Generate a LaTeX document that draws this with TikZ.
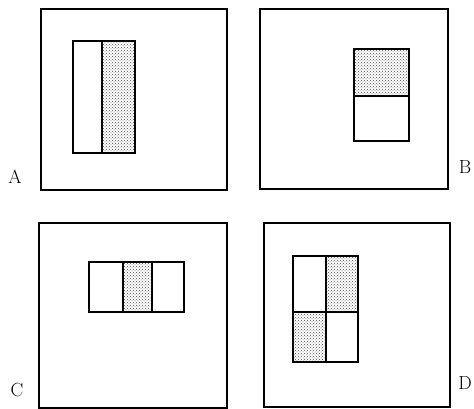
\documentclass[tikz,border=0pt]{standalone}
\usetikzlibrary{patterns}

\tikzset{
  frame/.style={line width=1.4pt},
  haar/.style={line width=1.5pt},
  dark/.style={pattern=crosshatch dots, pattern color=black!70},
  tag/.style={font=\fontsize{19}{21}\selectfont}
}

\begin{document}
\begin{tikzpicture}[x=1pt,y=-1pt]
  \useasboundingbox (0,0) rectangle (474,409);

  % outer windows
  \draw[frame] (41,9) rectangle (227,190);
  \draw[frame] (260,9) rectangle (448,189);
  \draw[frame] (39,223) rectangle (227,408);
  \draw[frame] (264,223) rectangle (450,407);

  % A: two columns, right one dark
  \fill[dark] (102,41) rectangle (135,153);
  \draw[haar] (73,41) rectangle (135,153);
  \draw[haar] (102,41) -- (102,153);

  % B: two rows, top one dark
  \fill[dark] (354,49) rectangle (409,96);
  \draw[haar] (354,49) rectangle (409,141);
  \draw[haar] (354,96) -- (409,96);

  % C: three columns, middle one dark
  \fill[dark] (123,262) rectangle (152,312);
  \draw[haar] (89,262) rectangle (184,312);
  \foreach \x in {123,152}{
    \draw[haar] (\x,262) -- (\x,312);
  }

  % D: checker of four
  \fill[dark] (326,256) rectangle (358,312);
  \fill[dark] (293,312) rectangle (326,362);
  \draw[haar] (293,256) rectangle (358,362);
  \draw[haar] (326,256) -- (326,362);
  \draw[haar] (293,312) -- (358,312);

  % labels
  \node[tag] (labA) at (15,177) {A};
  \node[tag] (labB) at (465,167) {B};
  \node[tag] (labC) at (17,390) {C};
  \node[tag] (labD) at (465,383) {D};
\end{tikzpicture}
\end{document}
